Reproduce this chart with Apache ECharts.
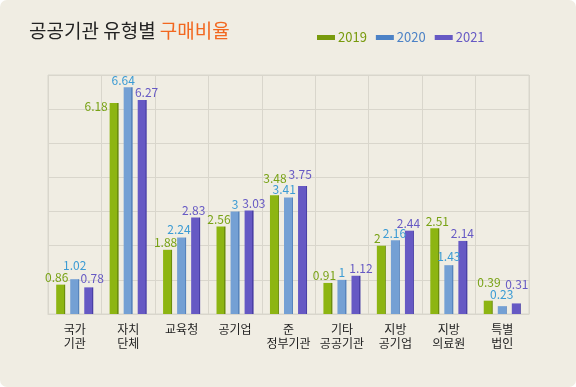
<!DOCTYPE html>
<html>
<head>
<meta charset="utf-8">
<script src="https://cdn.jsdelivr.net/npm/echarts@6/dist/echarts.min.js"></script>
<style>
html,body{margin:0;padding:0;background:#ffffff;}
#wrap{width:576px;height:387px;background:#f0ede3;border-radius:7px;overflow:hidden;}
#chart{width:576px;height:387px;}
</style>
</head>
<body>
<div id="wrap"><div id="chart"></div></div>
<script>
// ---- data ----
const categories = ['국가\n기관','자치\n단체','교육청','공기업','준\n정부기관','기타\n공공기관','지방\n공기업','지방\n의료원','특별\n법인'];
const seriesNames = ['2019','2020','2021'];
const values2019 = [0.86, 6.18, 1.88, 2.56, 3.48, 0.91, 2, 2.51, 0.39];
const values2020 = [1.02, 6.64, 2.24, 3, 3.41, 1, 2.16, 1.43, 0.23];
const values2021 = [0.78, 6.27, 2.83, 3.03, 3.75, 1.12, 2.44, 2.14, 0.31];

// ---- label nudges (styling, px) ----
const shift2019 = [[-4,0],[-18,10],[-2,0],[-2,0],[0.5,-9.5],[-3.5,0],[-4,0],[2.5,0],[0.7,-11.5]];
const shift2020 = [[0,-7],[-5,0],[-2.6,-1],[0,0],[-4.3,-1.5],[0,0],[-1,0],[0,-1.5],[-0.5,-4.5]];
const shift2021 = [[3.5,-2],[4.4,0],[-2,0],[4.7,0],[-2.3,-4.5],[5,0],[-1,0],[-0.5,0],[0.5,-11.5]];

const FONT = '"Noto Sans CJK KR", "Noto Sans", sans-serif';
const barColors = [['#8db512','#6c8e0c'],['#74a0d4','#5784bd'],['#6659c4','#4a3fa6']];
const labelColors = ['#78a215','#3b9bd4','#6659c4'];
const legendColors = ['#789a0c','#4c82c6','#6659c4'];

function grad(c){
  return {type:'linear',x:0,y:0,x2:1,y2:0,colorStops:[
    {offset:0,color:c[0]},{offset:0.86,color:c[0]},{offset:0.87,color:c[1]},{offset:1,color:c[1]}]};
}
function makeSeries(idx, vals, shifts){
  return {
    name: seriesNames[idx], type:'bar', barWidth:9, barGap:'56%',
    itemStyle:{color:grad(barColors[idx])},
    label:{show:true, position:'top', distance:1, color:labelColors[idx], fontSize:12, fontFamily:FONT},
    data: vals.map((v,i)=>({value:v, label:{offset:shifts[i]}}))
  };
}

const chart = echarts.init(document.getElementById('chart'), null, {renderer:'canvas'});
chart.setOption({
  backgroundColor:'transparent',
  animation:false,
  title:{
    left:29, top:21, padding:0,
    text:'{a|공공기관 유형별 }{b|구매비율}',
    textStyle:{fontWeight:'normal', rich:{
      a:{fontSize:19,color:'#222222',fontFamily:FONT,fontWeight:'normal'},
      b:{fontSize:19,color:'#f2671f',fontFamily:FONT,fontWeight:'normal'}
    }}
  },
  legend:{
    left:317, top:31, padding:0, itemWidth:18, itemHeight:5, itemGap:9, icon:'rect',
    textStyle:{fontSize:13, fontFamily:FONT, padding:[0,0,0,-2]},
    data: seriesNames.map((n,i)=>({name:n, itemStyle:{color:legendColors[i]}, textStyle:{color:legendColors[i]}}))
  },
  grid:{left:48, right:47, top:75, bottom:73, show:true, borderColor:'#d9d6cc', borderWidth:1},
  xAxis:{
    type:'category', data:categories, boundaryGap:true,
    axisLine:{show:true, lineStyle:{color:'#d9d6cc'}},
    axisTick:{show:false},
    splitLine:{show:true, lineStyle:{color:'#d9d6cc', width:1}},
    axisLabel:{color:'#222222', fontSize:12, lineHeight:14, margin:8, fontFamily:FONT, interval:0}
  },
  yAxis:{
    type:'value', min:0, max:7, interval:1,
    axisLine:{show:false}, axisTick:{show:false}, axisLabel:{show:false},
    splitLine:{show:true, lineStyle:{color:'#d9d6cc', width:1}}
  },
  series:[
    makeSeries(0, values2019, shift2019),
    makeSeries(1, values2020, shift2020),
    makeSeries(2, values2021, shift2021)
  ]
});
</script>
</body>
</html>
